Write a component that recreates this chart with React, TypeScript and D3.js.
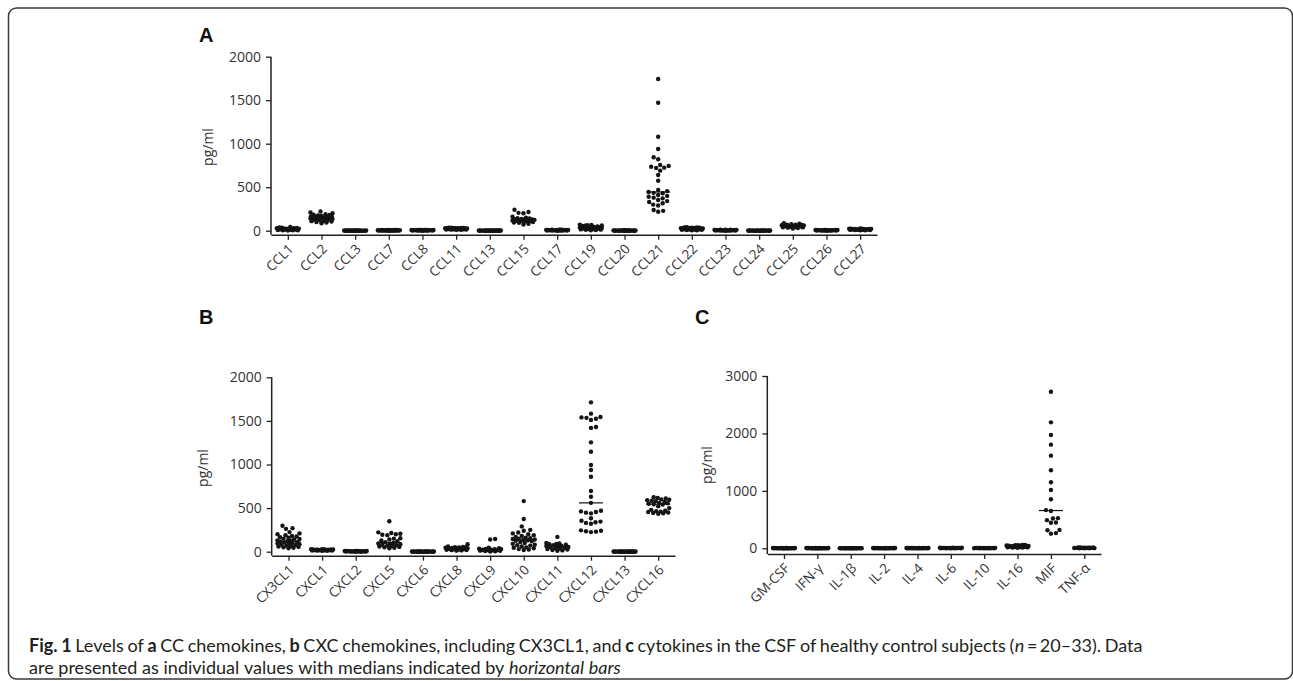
import React, { useRef, useEffect } from 'react';
import * as d3 from 'd3';

// A: CC chemokines
const ccCategories = ['CCL1', 'CCL2', 'CCL3', 'CCL7', 'CCL8', 'CCL11', 'CCL13', 'CCL15', 'CCL17',
  'CCL19', 'CCL20', 'CCL21', 'CCL22', 'CCL23', 'CCL24', 'CCL25', 'CCL26', 'CCL27'];
const ccValues = [
  [2, 4, 5, 6, 8, 10, 12, 14, 15, 18, 20, 22, 24, 25, 28, 30, 32, 35, 38, 42],
  [85, 95, 100, 105, 110, 115, 120, 125, 128, 130, 135, 138, 140, 142, 145, 148, 150, 152, 155, 158, 160, 165, 170, 175, 180, 185, 190, 200, 210, 220],
  [0, 0, 0, 0, 0, 0, 0, 0, 0, 0, 1, 1, 1, 1, 1, 1, 2, 2, 2, 2, 2, 3, 3, 3, 3],
  [0, 0, 1, 1, 1, 2, 2, 2, 3, 3, 3, 4, 4, 4, 5, 5, 5, 6, 6, 6, 7, 7, 7, 8, 8, 8, 8, 8],
  [0, 1, 1, 2, 2, 3, 3, 4, 4, 5, 5, 6, 6, 6, 7, 7, 7, 8, 8, 8, 9, 9, 9, 10, 10, 10],
  [10, 11, 12, 13, 14, 15, 16, 17, 18, 19, 20, 21, 22, 23, 24, 25, 26, 27, 28, 29, 30, 31, 32, 33, 34, 35],
  [0, 0, 0, 0, 0, 0, 0, 0, 1, 1, 1, 1, 1, 1, 1, 2, 2, 2, 2, 2, 2, 3, 3, 3, 3, 3],
  [240, 215, 205, 200, 160, 150, 145, 140, 135, 132, 130, 128, 125, 122, 120, 118, 115, 112, 110, 105, 100, 95, 90, 80, 70],
  [0, 1, 2, 2, 3, 3, 4, 4, 5, 5, 6, 6, 7, 7, 8, 8, 9, 9, 10, 10, 11, 11, 12, 12],
  [70, 65, 62, 60, 58, 55, 50, 45, 42, 40, 38, 35, 32, 30, 28, 25, 22, 20, 18, 15, 12, 10, 8, 5],
  [0, 0, 0, 0, 0, 0, 1, 1, 1, 1, 1, 2, 2, 2, 2, 3, 3, 3, 4, 4, 4, 5, 5, 5],
  [1744, 1471, 1080, 939, 844, 821, 755, 745, 735, 725, 720, 690, 640, 575, 468, 455, 445, 435, 430,
    410, 400, 390, 380, 372, 353, 340, 330, 315, 300, 290, 238, 228, 218],
  [5, 6, 8, 10, 11, 12, 14, 15, 16, 18, 19, 20, 22, 23, 24, 25, 26, 28, 30, 31, 32, 34, 35, 36, 38, 40],
  [0, 1, 1, 2, 2, 3, 3, 4, 4, 5, 6, 6, 7, 7, 8, 8, 9, 10, 10, 11, 12, 12],
  [0, 0, 0, 0, 0, 0, 0, 1, 1, 1, 1, 1, 1, 2, 2, 2, 2, 2, 3, 3, 3, 3],
  [25, 30, 35, 38, 40, 42, 45, 48, 50, 52, 55, 58, 60, 62, 65, 68, 70, 75, 80, 85],
  [0, 1, 1, 2, 2, 3, 3, 4, 4, 5, 5, 6, 6, 7, 7, 8, 8, 9, 9, 10, 10],
  [5, 6, 7, 8, 9, 10, 11, 12, 13, 14, 15, 16, 17, 18, 19, 20, 21, 22, 23, 24, 25],
];
const ccTicks = [0, 500, 1000, 1500, 2000];

// B: CXC chemokines
const cxcCategories = ['CX3CL1', 'CXCL1', 'CXCL2', 'CXCL5', 'CXCL6', 'CXCL8', 'CXCL9', 'CXCL10',
  'CXCL11', 'CXCL12', 'CXCL13', 'CXCL16'];
const cxcValues = [
  [298, 270, 262, 225, 210, 200, 190, 180, 175, 165, 160, 150, 145, 140, 130, 125, 120, 115, 110, 105,
    100, 95, 90, 85, 80, 75, 70, 65, 60, 55, 50, 45, 40],
  [10, 11, 12, 13, 14, 15, 16, 17, 18, 19, 20, 21, 22, 23, 24, 25, 26, 27, 28, 29, 30],
  [0, 0, 1, 1, 2, 2, 3, 3, 4, 4, 5, 5, 6, 6, 7, 7, 8, 8, 9, 9, 10],
  [350, 222, 215, 205, 200, 195, 190, 155, 150, 140, 130, 120, 110, 100, 95, 90, 85, 80, 75, 70, 65,
    60, 55, 50, 45, 40],
  [0, 0, 0, 0, 0, 0, 0, 1, 1, 1, 1, 1, 1, 2, 2, 2, 2, 2, 3, 3, 3, 3, 3],
  [85, 60, 55, 52, 50, 48, 45, 42, 40, 38, 35, 32, 30, 28, 25, 22, 20, 18, 15, 12],
  [145, 140, 45, 40, 35, 32, 30, 28, 25, 22, 20, 18, 15, 12, 10, 8, 5, 2],
  [580, 375, 290, 250, 240, 220, 210, 200, 190, 180, 170, 160, 155, 150, 145, 140, 135, 130, 125, 120,
    110, 100, 90, 80, 75, 70, 60, 50, 45, 40, 30, 25, 20],
  [170, 100, 95, 90, 85, 80, 75, 70, 65, 60, 55, 50, 45, 40, 35, 30, 25, 20, 15, 10],
  [1713, 1583, 1545, 1540, 1535, 1525, 1510, 1430, 1420, 1254, 1147, 994, 937, 860, 696, 631, 560,
    470, 462, 455, 448, 440, 383, 355, 345, 338, 330, 320, 245, 240, 235, 230, 225],
  [0, 0, 0, 0, 0, 0, 0, 0, 1, 1, 1, 1, 1, 1, 2, 2, 2, 2, 2, 3, 3, 3, 3, 3],
  [625, 615, 610, 600, 595, 590, 585, 580, 570, 560, 555, 550, 545, 540, 520, 500, 480, 470, 465, 460,
    455, 450, 445, 440, 435],
];
const cxcTicks = [0, 500, 1000, 1500, 2000];

// C: cytokines
const cytCategories = ['GM-CSF', 'IFN-γ', 'IL-1β', 'IL-2', 'IL-4', 'IL-6', 'IL-10', 'IL-16', 'MIF', 'TNF-α'];
const cytValues = [
  [0, 0, 0, 0, 1, 1, 1, 1, 2, 2, 2, 2, 3, 3, 3, 3, 4, 4, 4, 5, 5, 5],
  [0, 0, 0, 0, 0, 1, 1, 1, 1, 2, 2, 2, 2, 3, 3, 3, 4, 4, 4, 5, 5],
  [0, 0, 0, 0, 0, 0, 1, 1, 1, 1, 1, 2, 2, 2, 2, 3, 3, 3, 3, 3],
  [0, 0, 0, 0, 1, 1, 1, 2, 2, 2, 3, 3, 3, 4, 4, 4, 5, 5, 5, 5],
  [0, 0, 0, 1, 1, 1, 2, 2, 2, 3, 3, 3, 4, 4, 4, 5, 5, 5, 5, 5],
  [0, 1, 1, 2, 2, 3, 3, 4, 4, 5, 5, 6, 6, 7, 7, 8, 8, 9, 9, 10],
  [0, 0, 1, 1, 2, 2, 3, 3, 4, 4, 5, 5, 6, 6, 7, 7, 8, 8],
  [10, 12, 14, 16, 18, 20, 22, 24, 26, 28, 30, 32, 34, 36, 38, 40, 42, 45, 48, 50, 52, 55, 58, 60],
  [2727, 2193, 1973, 1805, 1613, 1358, 1150, 1015, 853, 665, 650, 525, 520, 490, 450, 445, 320, 315, 265, 255],
  [0, 1, 2, 3, 4, 5, 6, 7, 8, 9, 10, 11, 12, 13, 14, 15],
];
const cytTicks = [0, 1000, 2000, 3000];

// caption pieces: [text, style, space after]
const captionLine1: [string, string, boolean][] = [
  ['Fig. 1', 'b', true], ['Levels of', '', true], ['a', 'b', true], ['CC chemokines,', '', true], ['b', 'b', true],
  ['CXC chemokines, including CX3CL1, and', '', true], ['c', 'b', true],
  ['cytokines in the CSF of healthy control subjects (', '', false], ['n', 'i', false],
  ['\u2009=\u200920–33). Data', '', false],
];
const captionLine2: [string, string, boolean][] = [
  ['are presented as individual values with medians indicated by', '', true], ['horizontal bars', 'i', false],
];

const W = 1293;
const H = 681;
const FONT = '"Open Sans", "DejaVu Sans", sans-serif';
const CAP_FONT = 'Lato, "Open Sans", sans-serif';

const panels = [
  { letter: 'A', categories: ccCategories, values: ccValues, ticks: ccTicks,
    x0: 271, x1: 877, yZero: 230.7, yTop: 56.7, axisY: 234.7, labX: 213, labY: 147, letterX: 199, letterY: 42 },
  { letter: 'B', categories: cxcCategories, values: cxcValues, ticks: cxcTicks,
    x0: 271.7, x1: 675, yZero: 551.7, yTop: 377.3, axisY: 555.7, labX: 208, labY: 468, letterX: 199, letterY: 324 },
  { letter: 'C', categories: cytCategories, values: cytValues, ticks: cytTicks,
    x0: 767.3, x1: 1101, yZero: 548.3, yTop: 376, axisY: 554, labX: 712, labY: 465, letterX: 695, letterY: 324 },
];

// simple beeswarm: points sorted by value, pushed sideways until they stop overlapping
function swarm(vals: number[], y: (v: number) => number, cx: number, r: number, maxHalf: number) {
  const placed: { x: number; y: number }[] = [];
  const d = 2 * r + 0.3;
  const cands = d3.range(-maxHalf, maxHalf + 0.01, 0.5)
    .sort((a, b) => Math.abs(a) - Math.abs(b) || a - b);
  let flip = false;
  for (const v of vals.slice().sort(d3.ascending)) {
    const py = y(v);
    const near = placed.filter(p => Math.abs(p.y - py) < d);
    let best = 0;
    let bestDist = -1;
    for (const c0 of cands) {
      const c = flip ? -c0 : c0;
      let m = Infinity;
      for (const p of near) {
        const dist = Math.hypot(p.x - c, p.y - py);
        if (dist < m) m = dist;
      }
      if (m >= d) { best = c; bestDist = m; break; }
      if (m > bestDist) { bestDist = m; best = c; }
    }
    flip = !flip;
    placed.push({ x: best, y: py });
  }
  return placed.map(p => ({ x: cx + p.x, y: p.y }));
}

// split caption pieces into single words, each knowing whether a space follows it
function toWords(parts: [string, string, boolean][]) {
  const out: { t: string; s: string; sp: boolean }[] = [];
  parts.forEach(([t, s, sp]) => {
    const ws = t.split(' ');
    ws.forEach((w, i) => out.push({ t: w, s, sp: i < ws.length - 1 ? true : sp }));
  });
  return out;
}

const App = () => {
  const svgRef = useRef<SVGSVGElement>(null);

  useEffect(() => {
    const svg = d3.select(svgRef.current);
    svg.selectAll('*').remove();

    // frame
    svg.append('rect')
      .attr('x', 8.5).attr('y', 8).attr('width', 1284).attr('height', 671)
      .attr('rx', 8).attr('fill', 'none').attr('stroke', '#3a3a3a').attr('stroke-width', 1.5);

    panels.forEach(p => {
      const g = svg.append('g');
      const x = d3.scalePoint<string>().domain(p.categories).range([p.x0, p.x1]).padding(0.5);
      const yMax = p.ticks[p.ticks.length - 1];
      const y = d3.scaleLinear().domain([0, yMax]).range([p.yZero, p.yTop]);

      // y axis
      const ya = g.append('g').attr('transform', `translate(${p.x0},0)`)
        .call(d3.axisLeft(y).tickValues(p.ticks).tickSize(5).tickPadding(5).tickFormat(d3.format('d')));
      ya.select('.domain').remove();
      ya.selectAll('line').attr('stroke', '#222').attr('stroke-width', 1.3);
      ya.selectAll('text').attr('font-family', FONT).attr('font-size', 14).attr('fill', '#333');
      g.append('line')
        .attr('x1', p.x0).attr('x2', p.x0).attr('y1', p.yTop).attr('y2', p.axisY)
        .attr('stroke', '#222').attr('stroke-width', 1.5);

      // x axis
      const xa = g.append('g').attr('transform', `translate(0,${p.axisY})`)
        .call(d3.axisBottom(x).tickSize(5).tickSizeOuter(0));
      xa.select('.domain').attr('stroke', '#222').attr('stroke-width', 1.5);
      xa.selectAll('line').attr('stroke', '#222').attr('stroke-width', 1.3);
      xa.selectAll('text')
        .attr('font-family', FONT).attr('font-size', 13.5).attr('fill', '#333')
        .attr('text-anchor', 'end').attr('dy', null).attr('y', null)
        .attr('transform', 'translate(6,15) rotate(-45)');

      // y label
      g.append('text')
        .attr('transform', `translate(${p.labX},${p.labY}) rotate(-90)`)
        .attr('text-anchor', 'middle')
        .attr('font-family', FONT).attr('font-size', 14).attr('fill', '#333')
        .text('pg/ml');

      // panel letter
      g.append('text')
        .attr('x', p.letterX).attr('y', p.letterY)
        .attr('font-family', '"Liberation Sans", Arial, sans-serif')
        .attr('font-weight', 'bold').attr('font-size', 20).attr('fill', '#111')
        .text(p.letter);

      // dots + medians
      p.categories.forEach((c, i) => {
        const vals = p.values[i];
        const cx = x(c) as number;
        const pts = swarm(vals, y, cx, 2.2, 11);
        g.append('g').selectAll('circle').data(pts).enter().append('circle')
          .attr('cx', d => d.x).attr('cy', d => d.y).attr('r', 2.2).attr('fill', '#141414');
        const med = d3.median(vals) as number;
        g.append('line')
          .attr('x1', cx - 12).attr('x2', cx + 12).attr('y1', y(med)).attr('y2', y(med))
          .attr('stroke', '#111').attr('stroke-width', 1.2);
      });
    });

    // caption: justified first line, natural last line
    const cap = svg.append('g').attr('font-family', CAP_FONT).attr('fill', '#231f20');
    const len = (n: any) => (n.node() as SVGTextElement).getComputedTextLength();
    const words1 = toWords(captionLine1);
    const words2 = toWords(captionLine2);
    const put = (ws: { t: string; s: string }[]) => ws.map(w =>
      cap.append('text').attr('font-size', 16)
        .attr('font-weight', w.s === 'b' ? 'bold' : null)
        .attr('font-style', w.s === 'i' ? 'italic' : null)
        .text(w.t));
    const n1 = put(words1);
    const n2 = put(words2);
    const nSp = words1.filter(w => w.sp).length;
    const tight16 = d3.sum(words1, w => (w.sp ? 0 : 0.5));
    const nat1 = d3.sum(n1, len) + nSp * 0.2 * 16 + tight16;
    const size = 16 * 1114 / nat1;
    n1.forEach(n => n.attr('font-size', size));
    n2.forEach(n => n.attr('font-size', size));
    const lineGap = size * 1.2 + 0.6;
    const y2 = 674;
    const y1 = y2 - lineGap;

    const w1 = n1.map(len);
    const sp1 = (1114 - d3.sum(w1) - d3.sum(words1, w => (w.sp ? 0 : 0.5))) / nSp;
    let cx = 29;
    n1.forEach((n, i) => {
      n.attr('x', cx).attr('y', y1);
      cx += w1[i] + (words1[i].sp ? sp1 : 0.5);
    });
    const sp2 = 0.26 * size;
    cx = 29;
    n2.forEach((n, i) => {
      n.attr('x', cx).attr('y', y2);
      cx += len(n) + (words2[i].sp ? sp2 : 0.5);
    });
  }, []);

  return (
    <svg ref={svgRef} width={W} height={H}
      style={{ position: 'absolute', left: 0, top: 0, background: '#fff' }} />
  );
};

export default App;
